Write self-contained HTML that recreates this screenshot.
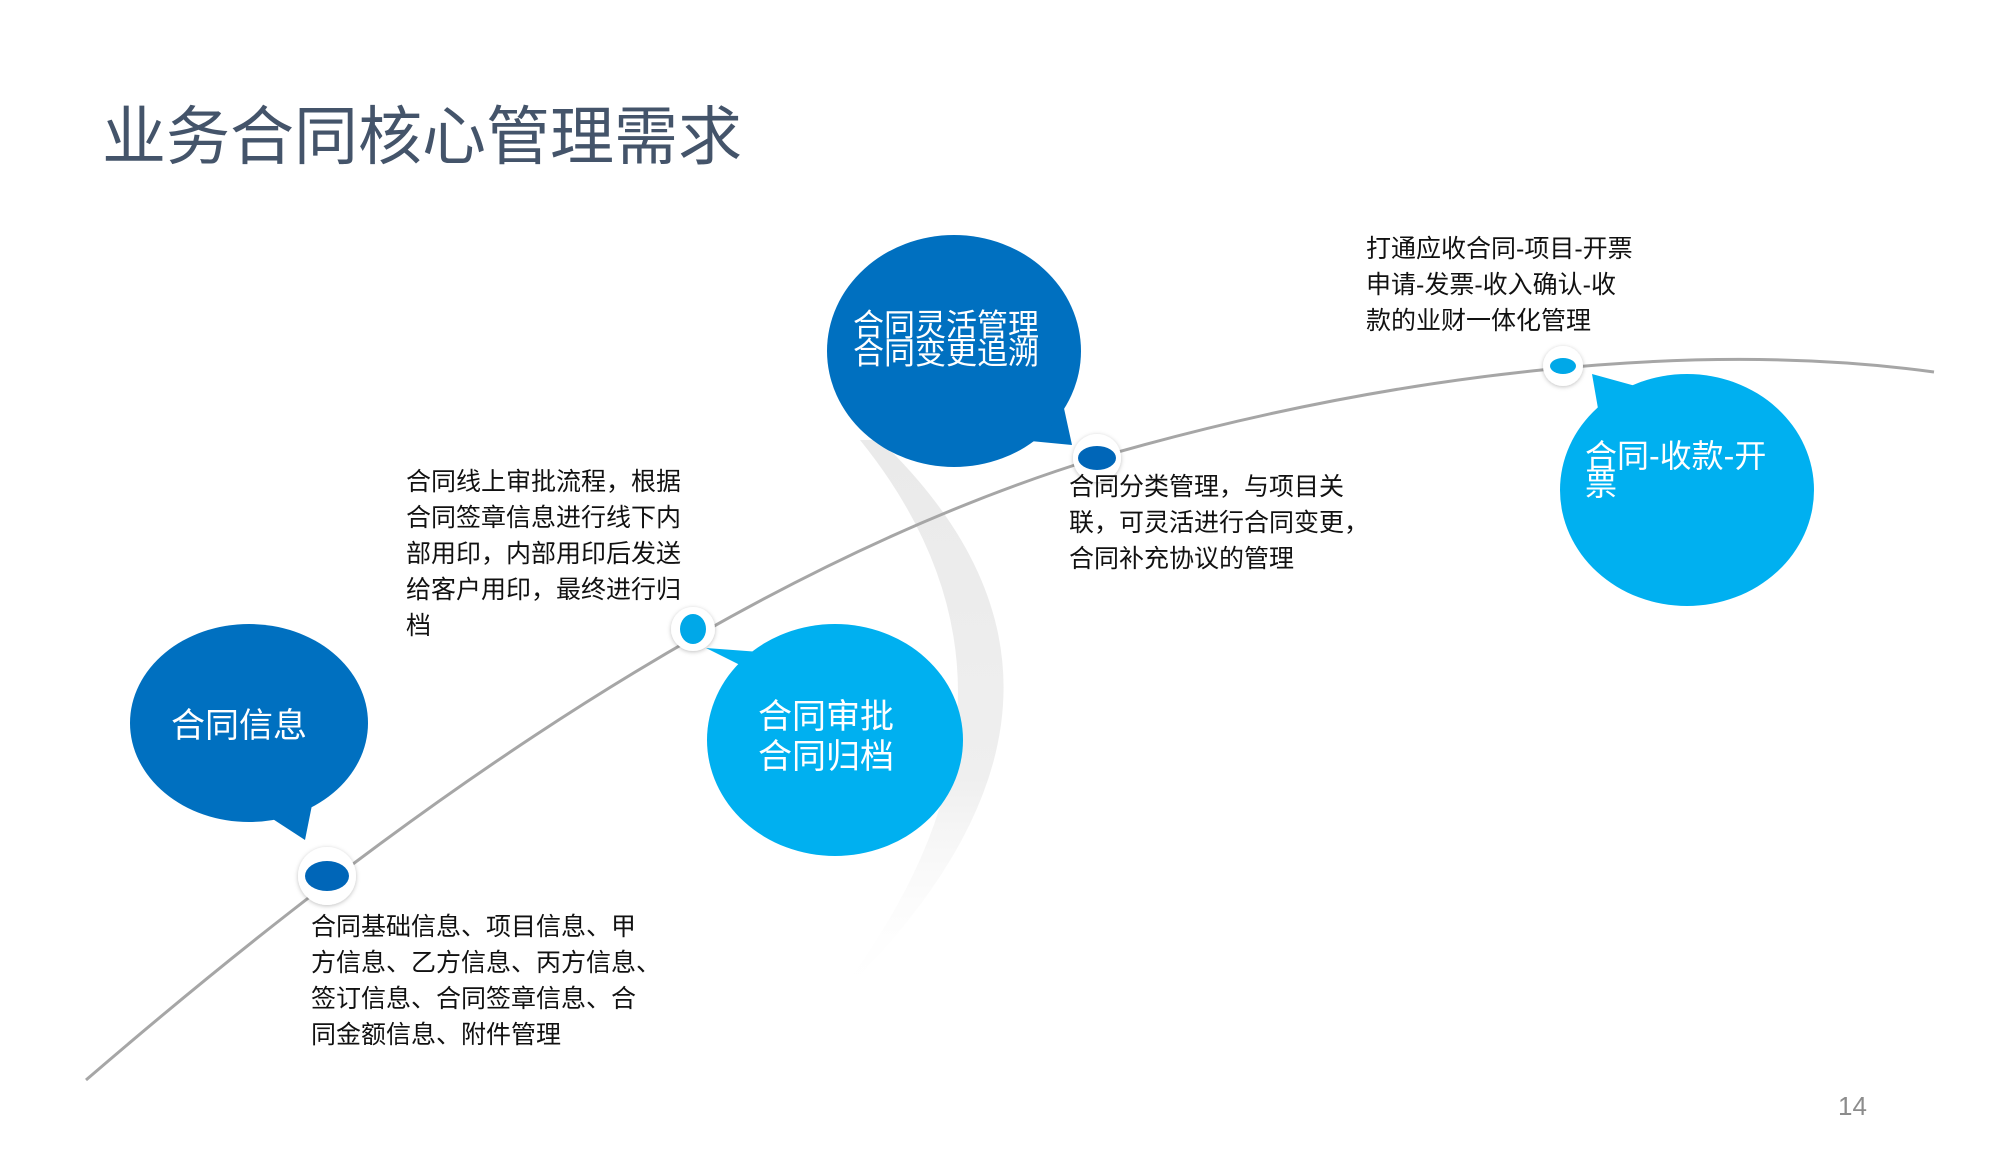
<!DOCTYPE html>
<html><head><meta charset="utf-8">
<style>
html,body{margin:0;padding:0;background:#fff;}
body{width:2000px;height:1165px;position:relative;overflow:hidden;font-family:"Liberation Sans","Noto Sans CJK SC",sans-serif;}
.t{position:absolute;white-space:nowrap;}
.blk{font-size:25px;line-height:36px;color:#111;}
.w{color:#fff;font-size:34px;}
</style></head><body>
<svg width="2000" height="1165" style="position:absolute;left:0;top:0">
<defs>
<linearGradient id="cg" x1="0" y1="0" x2="0" y2="1">
<stop offset="0" stop-color="#eaeaea"/><stop offset="0.6" stop-color="#efefef"/><stop offset="1" stop-color="#ffffff" stop-opacity="0"/>
</linearGradient>
<filter id="sh" x="-50%" y="-50%" width="200%" height="200%"><feDropShadow dx="0" dy="1" stdDeviation="2" flood-color="#000" flood-opacity="0.25"/></filter>
</defs>
<path d="M880,440 Q1150,700 830,1005 Q1070,700 860,440 Z" fill="url(#cg)"/>
<path d="M86,1080 C330,870 700,580 1097,458 C1400,370 1700,340 1934,372" fill="none" stroke="#a6a6a6" stroke-width="3"/>
<polygon points="262,812 315,790 305,840" fill="#0070c0"/>
<ellipse cx="249" cy="723" rx="119" ry="99" fill="#0070c0"/>
<polygon points="706,648 760,652 790,690" fill="#00b0f0"/>
<ellipse cx="835" cy="740" rx="128" ry="116" fill="#00b0f0"/>
<polygon points="1040,400 1060,390 1072,445 1020,440" fill="#0070c0"/>
<ellipse cx="954" cy="351" rx="127" ry="116" fill="#0070c0"/>
<polygon points="1592,374 1650,390 1600,420" fill="#00b0f0"/>
<ellipse cx="1687" cy="490" rx="127" ry="116" fill="#00b0f0"/>
<circle cx="327" cy="876" r="29" fill="#fff" filter="url(#sh)"/>
<ellipse cx="327" cy="876" rx="22" ry="15" fill="#0066b8"/>
<circle cx="693" cy="629" r="22" fill="#fff" filter="url(#sh)"/>
<ellipse cx="693" cy="629" rx="13" ry="15" fill="#00a8e8"/>
<circle cx="1097" cy="458" r="24" fill="#fff" filter="url(#sh)"/>
<ellipse cx="1097" cy="458" rx="19" ry="12" fill="#0066b8"/>
<circle cx="1563" cy="366" r="20" fill="#fff" filter="url(#sh)"/>
<ellipse cx="1563" cy="366" rx="13" ry="8" fill="#00a8e8"/>
</svg>
<div class="t" style="left:102px;top:86px;font-size:64px;color:#44546a;">业务合同核心管理需求</div>
<div class="t w" style="left:171px;top:698px;">合同信息</div>
<div class="t w" style="left:758px;top:697px;line-height:40px;">合同审批<br>合同归档</div>
<div class="t w" style="left:853px;top:312px;line-height:28px;font-size:31px;">合同灵活管理<br>合同变更追溯</div>
<div class="t w" style="left:1585px;top:442px;line-height:28px;font-size:32px;">合同-收款-开<br>票</div>
<div class="t blk" style="left:406px;top:464px;">合同线上审批流程，根据<br>合同签章信息进行线下内<br>部用印，内部用印后发送<br>给客户用印，最终进行归<br>档</div>
<div class="t blk" style="left:311px;top:909px;">合同基础信息、项目信息、甲<br>方信息、乙方信息、丙方信息、<br>签订信息、合同签章信息、合<br>同金额信息、附件管理</div>
<div class="t blk" style="left:1069px;top:469px;">合同分类管理，与项目关<br>联，可灵活进行合同变更，<br>合同补充协议的管理</div>
<div class="t blk" style="left:1366px;top:231px;">打通应收合同-项目-开票<br>申请-发票-收入确认-收<br>款的业财一体化管理</div>
<div class="t" style="left:1838px;top:1091px;font-size:26px;color:#8c8c8c;">14</div>
</body></html>
